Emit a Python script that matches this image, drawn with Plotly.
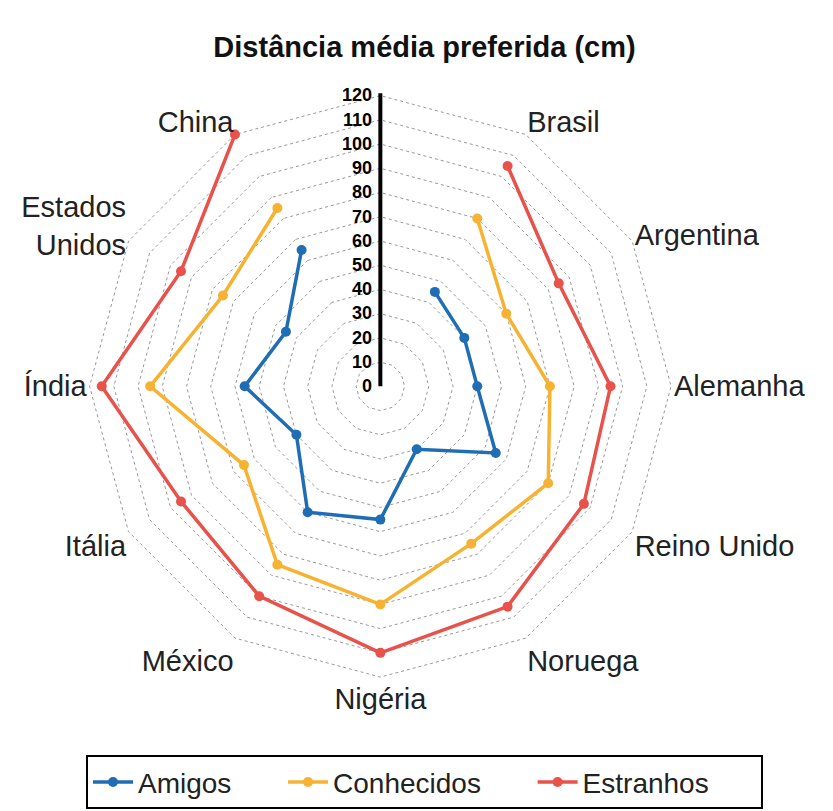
import plotly.graph_objects as go

# categories clockwise from the top; the top slot (" ") holds the radial axis
slots = [" ", "Brasil", "Argentina", "Alemanha", "Reino Unido", "Noruega", "Nigéria",
         "México", "Itália", "Índia", "Estados<br>Unidos", "China"]
paises = slots[1:]

amigos = [45, 40, 40, 55, 30, 55, 60, 40, 56, 45, 65]
conhecidos = [80, 60, 70, 80, 75, 90, 85, 65, 95, 75, 85]
estranhos = [105, 85, 95, 97, 105, 110, 100, 95, 115, 95, 120]

series = [("Amigos", amigos, "#1f6db5"),
          ("Conhecidos", conhecidos, "#f8b232"),
          ("Estranhos", estranhos, "#e8524a")]

fig = go.Figure()
for name, vals, color in series:
    fig.add_trace(go.Scatterpolar(
        r=vals, theta=paises, name=name + "      ", mode="lines+markers",
        line=dict(color=color, width=3.5), marker=dict(size=10, color=color)
    ))

fig.update_layout(
    width=833, height=811,
    paper_bgcolor="white",
    font=dict(family="Liberation Sans, Arial, sans-serif", color="#222"),
    margin=dict(l=0, r=0, t=0, b=0),
    title=dict(text="<b>Distância média preferida (cm)</b>", x=0.5, y=0.965,
               xanchor="center", font=dict(size=29, color="#111")),
    polar=dict(
        domain=dict(x=[0.094, 0.8], y=[0.172, 0.895]),
        bgcolor="white",
        gridshape="linear",
        radialaxis=dict(range=[0, 121], angle=90, tickangle=90, dtick=10,
                        showline=True, linecolor="black", linewidth=4,
                        gridcolor="#999", griddash="dot", ticks="",
                        tickfont=dict(size=18, color="black", family="Liberation Sans, Arial"),
                        tickprefix="<b>", ticksuffix="</b>", side="counterclockwise"),
        angularaxis=dict(categoryorder="array", categoryarray=slots,
                         rotation=90, direction="clockwise",
                         showgrid=False, showline=False, ticks="",
                         tickfont=dict(size=29, color="#222")),
    ),
    legend=dict(orientation="h", x=0.5, xanchor="center", y=0.012, yanchor="bottom",
                bordercolor="black", borderwidth=2, font=dict(size=28, color="#222"),
                itemwidth=40),
)

fig.write_html("out.html")
